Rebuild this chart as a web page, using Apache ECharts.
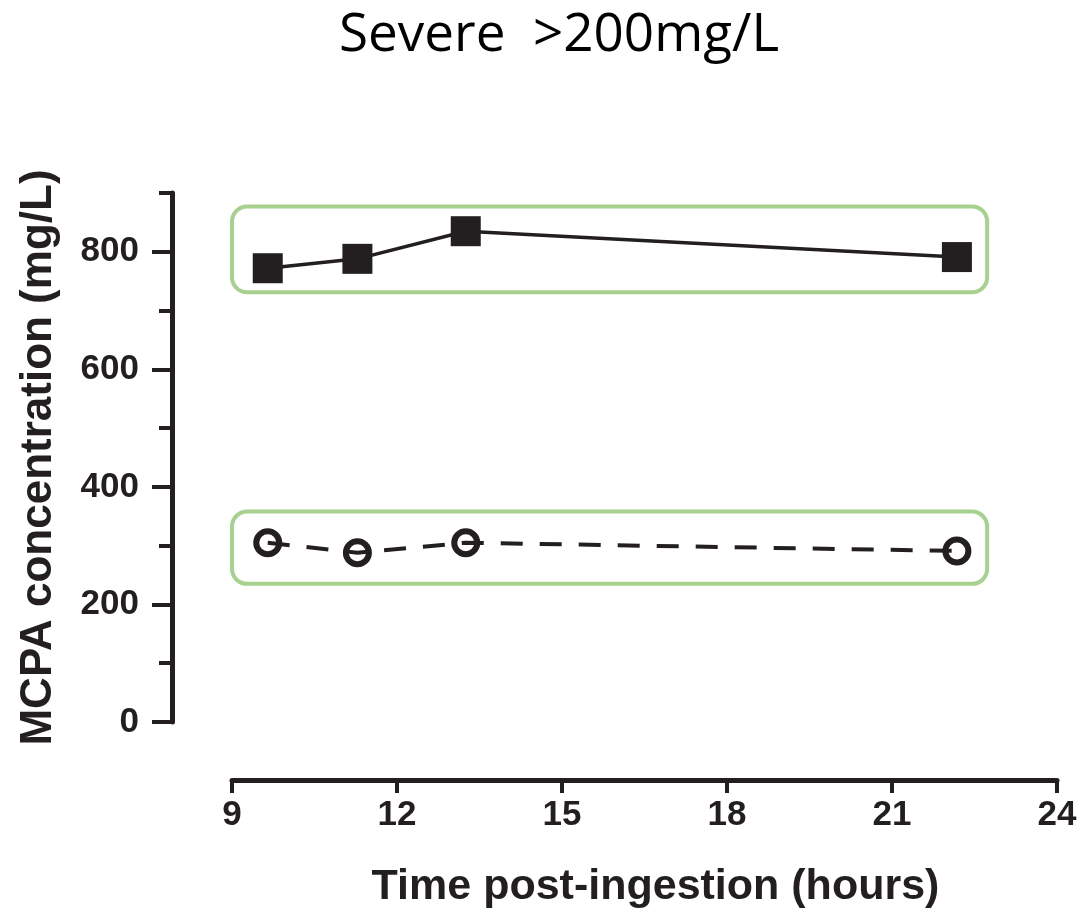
<!DOCTYPE html>
<html>
<head>
<meta charset="utf-8">
<script src="https://cdn.jsdelivr.net/npm/echarts@6/dist/echarts.min.js"></script>
<style>
  html, body { margin: 0; padding: 0; background: #fff; }
  #chart { width: 1084px; height: 924px; }
</style>
</head>
<body>
<div id="chart"></div>
<script>
// values
const hours = [9.65, 11.28, 13.25, 22.18];
const severeTotal = [772, 788, 835, 791];
const severeFree = [305, 288, 305, 291];
const yMajorTicks = [0, 200, 400, 600, 800];
const yMinorTicks = [100, 300, 500, 700, 900];
// highlighted groups, in data units: [x0, x1, y0, y1]
const boxTotal = [9, 22.73, 731, 877];
const boxFree = [9, 22.73, 235, 358];

const chart = echarts.init(document.getElementById("chart"));
const ink = "#231f20";
const labelFont = "'Liberation Sans', Arial, sans-serif";

const option = {
  animation: false,
  grid: { left: 232, right: 27, top: 193, bottom: 202 },
  xAxis: {
    type: "value",
    min: 9,
    max: 24,
    interval: 3,
    offset: 58,
    splitLine: { show: false },
    axisLine: { onZero: false, lineStyle: { color: ink, width: 5 } },
    axisTick: { length: 13, lineStyle: { color: ink, width: 4 } },
    axisLabel: {
      margin: 18,
      color: ink,
      fontFamily: labelFont,
      fontWeight: "bold",
      fontSize: 35,
    },
    name: "Time post-ingestion (hours)",
    nameLocation: "middle",
    nameGap: 86,
    nameTextStyle: {
      color: ink,
      fontFamily: labelFont,
      fontWeight: "bold",
      fontSize: 43,
      padding: [0, 0, 0, 22],
    },
  },
  yAxis: [
    {
      type: "value",
      min: 0,
      max: 900,
      interval: 100,
      offset: 60,
      splitLine: { show: false },
      axisLine: { show: true, onZero: false, lineStyle: { color: ink, width: 5 } },
      axisTick: {
        customValues: yMajorTicks,
        length: 20,
        lineStyle: { color: ink, width: 4 },
      },
      axisLabel: {
        customValues: yMajorTicks,
        margin: 33,
        color: ink,
        fontFamily: labelFont,
        fontWeight: "bold",
        fontSize: 35,
      },
      name: "MCPA concentration (mg/L)",
      nameLocation: "middle",
      nameRotate: 90,
      nameGap: 111,
      nameTextStyle: {
        color: ink,
        fontFamily: labelFont,
        fontWeight: "bold",
        fontSize: 44,
      },
    },
    {
      type: "value",
      min: 0,
      max: 900,
      interval: 100,
      offset: 60,
      position: "left",
      splitLine: { show: false },
      axisLine: { show: false },
      axisTick: {
        show: true,
        customValues: yMinorTicks,
        length: 13,
        lineStyle: { color: ink, width: 4 },
      },
      axisLabel: { show: false },
    },
  ],
  series: [
    {
      name: "total",
      type: "line",
      data: hours.map((h, i) => [h, severeTotal[i]]),
      symbol: "rect",
      symbolSize: 30,
      itemStyle: { color: ink },
      lineStyle: { color: ink, width: 3.5 },
      z: 3,
    },
    {
      name: "free",
      type: "line",
      data: hours.map((h, i) => [h, severeFree[i]]),
      symbol: "circle",
      symbolSize: 23,
      itemStyle: { color: "transparent", borderColor: ink, borderWidth: 6 },
      lineStyle: { color: ink, width: 4, type: [22, 17] },
      z: 3,
    },
  ],
};

chart.setOption(option);

function boxGraphic(b) {
  const p0 = chart.convertToPixel({ gridIndex: 0 }, [b[0], b[3]]);
  const p1 = chart.convertToPixel({ gridIndex: 0 }, [b[1], b[2]]);
  return {
    type: "rect",
    shape: { x: p0[0], y: p0[1], width: p1[0] - p0[0], height: p1[1] - p0[1], r: 15 },
    style: { fill: "none", stroke: "#a6d18f", lineWidth: 4 },
    z: 1,
  };
}

chart.setOption({
  graphic: [
    boxGraphic(boxTotal),
    boxGraphic(boxFree),
    {
      type: "text",
      x: 559,
      y: 36,
      style: {
        text: "Severe  >200mg/L",
        fontFamily: "'Open Sans', 'Noto Sans', sans-serif",
        fontSize: 53,
        fill: "#000",
        align: "center",
        verticalAlign: "middle",
      },
    },
  ],
});
</script>
</body>
</html>
